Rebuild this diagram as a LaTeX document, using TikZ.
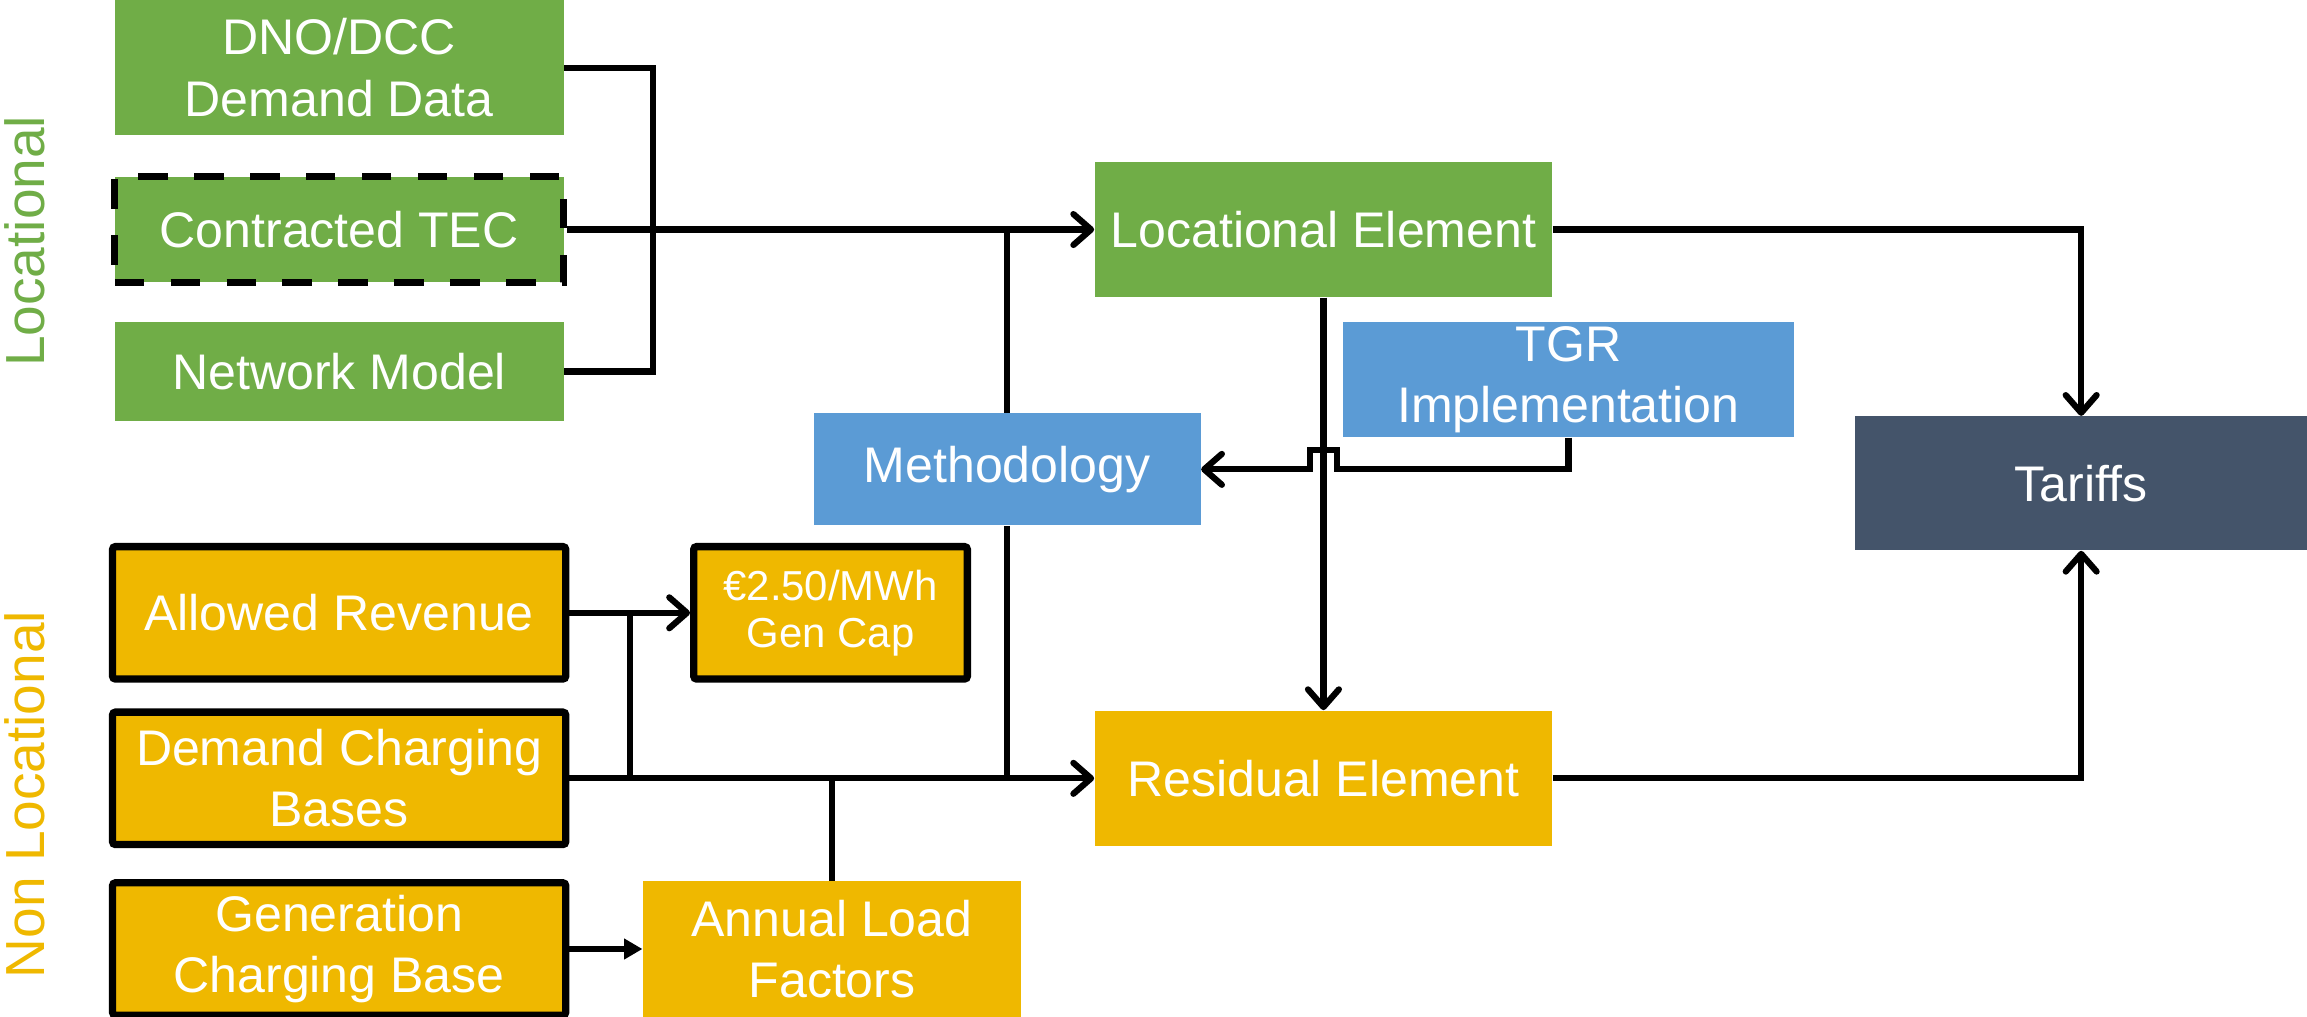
\documentclass[tikz,border=0pt]{standalone}
\usepackage{fontspec}
\setsansfont{Liberation Sans}
\usepackage{tikz}
\usetikzlibrary{shapes,arrows,arrows.meta}
\definecolor{locGreen}{HTML}{70AD47}
\definecolor{nlocGold}{HTML}{EFB800}
\definecolor{methBlue}{HTML}{5B9BD5}
\definecolor{tarSlate}{HTML}{44546A}
\tikzstyle{blockGR} = [rectangle, fill=locGreen, text=white, align=center, inner sep=0pt, minimum width=6.1cm]
\tikzstyle{blockBL} = [rectangle, fill=methBlue, text=white, align=center, inner sep=0pt]
\tikzstyle{blockYL} = [rectangle, fill=nlocGold, text=white, align=center, inner sep=0pt]
\tikzstyle{blockYB} = [blockYL, draw=black, line width=0.1cm, rounded corners=0.04cm, minimum width=6.16cm, minimum height=1.8cm]
\tikzstyle{blockDK} = [rectangle, fill=tarSlate, text=white, align=center, inner sep=0pt]
\tikzstyle{phase} = [font=\sffamily\fontsize{21.3}{25}\selectfont, inner sep=0pt]
\tikzstyle{wire} = [draw, line width=2.4pt]
\tikzstyle{line} = [wire, -{Straight Barb[length=0.24cm,width=0.42cm,round]}]
\tikzstyle{lineTri} = [wire, -{Triangle[length=0.25cm,width=0.27cm]}]

\begin{document}
\begin{tikzpicture}[node distance = 2cm, auto,
  font=\sffamily\fontsize{19.36}{23.8}\selectfont]
    \useasboundingbox (0,0) rectangle (31.36,-13.82);

    % locational inputs
    \node [blockGR, minimum height=1.84cm] (dno) at (4.61,-0.92) {DNO/DCC\\Demand Data};
    \node [blockGR, below of = dno, node distance = 2.2cm, minimum height=1.44cm,
      draw=black, line width=0.09cm, dash pattern=on 0.4cm off 0.36cm] (tec) {Contracted TEC};
    \node [blockGR, below of = tec, node distance = 1.93cm, minimum height=1.34cm] (netmod) {Network Model};

    % non locational inputs
    \node [blockYB, below of = netmod, node distance = 3.28cm] (allrev) {Allowed Revenue};
    \node [blockYB, below of = allrev, node distance = 2.25cm] (dcb) {Demand Charging\\Bases};
    \node [blockYB, below of = dcb, node distance = 2.32cm] (gcb) {Generation\\Charging Base};
    \node [blockYB, right of = allrev, node distance = 6.68cm, minimum width=3.72cm,
      font=\sffamily\fontsize{16.2}{18.2}\selectfont] (gencap) {€2.50/MWh\\Gen Cap};
    \node [blockYL, right of = gcb, node distance = 6.7cm, minimum width=5.14cm, minimum height=1.84cm] (alf) {Annual Load\\Factors};

    % elements
    \node [blockGR, right of = tec, node distance = 13.38cm, minimum width=6.22cm, minimum height=1.84cm] (locel) {Locational Element};
    \node [blockYL, right of = dcb, node distance = 13.38cm, minimum width=6.22cm, minimum height=1.84cm] (resel) {Residual Element};
    \node [blockBL, right of = netmod, node distance = 9.08cm, yshift=-1.33cm, minimum width=5.26cm, minimum height=1.52cm] (meth) {Methodology};
    \node [blockBL, below of = locel, node distance = 2.04cm, xshift=3.33cm, minimum width=6.12cm, minimum height=1.56cm] (tgr) {TGR\\Implementation};
    \node [blockDK, right of = locel, node distance = 10.3cm, yshift=-3.45cm, minimum width=6.14cm, minimum height=1.82cm] (tariffs) {Tariffs};

    % side labels
    \node [phase, text=locGreen, left of = tec, node distance = 4.27cm, yshift=-0.16cm, rotate=90] (lblLoc) {Locational};
    \node [phase, text=nlocGold, left of = dcb, node distance = 4.27cm, yshift=-0.22cm, rotate=90] (lblNonLoc) {Non Locational};

    % edges
    \node [coordinate, right of = tec, node distance = 4.27cm] (brk) {};
    \path [wire] (dno.east) -| (brk);
    \path [wire] (netmod.east) -| (brk);
    \path [line] (tec.east) -- (locel.west);
    \path [wire] (meth.north) -- (meth.north |- locel.west);
    \path [wire] (meth.south) -- (meth.south |- resel.west);
    \path [line] (dcb.east) -- (resel.west);
    \path [line] (allrev.east) -- node [coordinate, midway] (arj) {} (gencap.west);
    \path [wire] (arj) -- (arj |- dcb.east);
    \path [wire] (alf.north) -- (alf.north |- dcb.east);
    \path [lineTri] (gcb.east) -- (alf.west);
    \path [line] (locel.south) -- (resel.north);
    \path [line] (locel.east) -| (tariffs.north);
    \path [line] (resel.east) -| (tariffs.south);
    \node [coordinate] (hop) at (locel.south |- meth.east) {};
    \path [line] (tgr.south) |- ([xshift=0.18cm]hop) -- ++(0,0.26) -- ++(-0.36,0) -- ++(0,-0.26) -- (meth.east);
\end{tikzpicture}
\end{document}
